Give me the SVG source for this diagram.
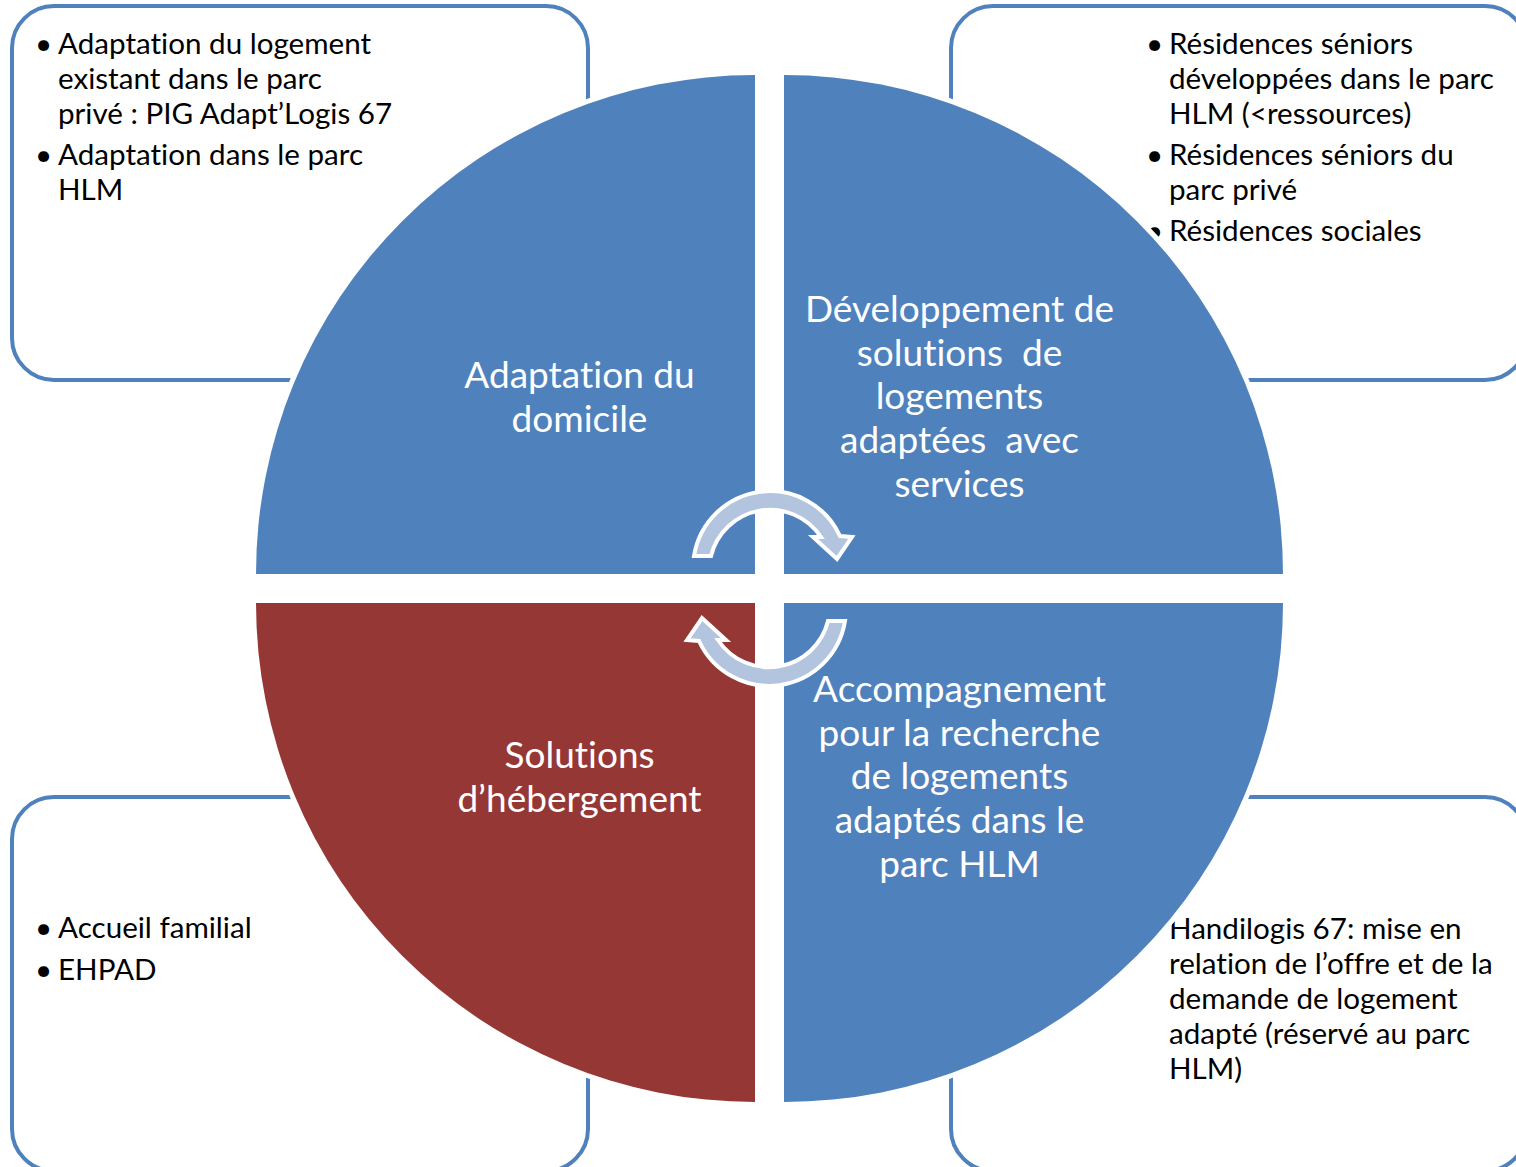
<svg xmlns="http://www.w3.org/2000/svg" width="1516" height="1167" viewBox="0 0 1516 1167">
<style>
text{font-variant-ligatures:none}
.box{fill:#FFFFFF;stroke:#4F81BD;stroke-width:4}
.bt{font-family:Lato,"Open Sans","Liberation Sans",sans-serif;font-size:29.6px;fill:#000000}
.q{stroke:#FFFFFF;stroke-width:10;paint-order:stroke;stroke-linejoin:miter}
.blue{fill:#4F81BD}
.red{fill:#953735}
.ql{font-family:Lato,"Open Sans","Liberation Sans",sans-serif;font-size:37px;fill:#FFFFFF;text-anchor:middle}
.arrow{fill:#B3C4DF;stroke:#FFFFFF;stroke-width:4;stroke-linejoin:miter}
</style>
<rect width="1516" height="1167" fill="#FFFFFF"/>
<g id="box-tl">
<rect class="box" x="12" y="6" width="576" height="374" rx="42" ry="42"/>
<text class="bt" x="35" y="54">•</text>
<text class="bt" x="58" y="54">Adaptation du logement</text>
<text class="bt" x="58" y="89">existant dans le parc</text>
<text class="bt" x="58" y="124">privé : PIG Adapt’Logis 67</text>
<text class="bt" x="35" y="165">•</text>
<text class="bt" x="58" y="165">Adaptation dans le parc</text>
<text class="bt" x="58" y="200">HLM</text>
</g>
<g id="box-tr">
<rect class="box" x="951" y="6" width="576" height="374" rx="42" ry="42"/>
<text class="bt" x="1146" y="54">•</text>
<text class="bt" x="1169" y="54">Résidences séniors</text>
<text class="bt" x="1169" y="89">développées dans le parc</text>
<text class="bt" x="1169" y="124">HLM (&lt;ressources)</text>
<text class="bt" x="1146" y="165">•</text>
<text class="bt" x="1169" y="165">Résidences séniors du</text>
<text class="bt" x="1169" y="200">parc privé</text>
<text class="bt" x="1146" y="241">•</text>
<text class="bt" x="1169" y="241">Résidences sociales</text>
</g>
<g id="box-bl">
<rect class="box" x="12" y="797" width="576" height="374" rx="42" ry="42"/>
<text class="bt" x="35" y="938">•</text>
<text class="bt" x="58" y="938">Accueil familial</text>
<text class="bt" x="35" y="980">•</text>
<text class="bt" x="58" y="980">EHPAD</text>
</g>
<g id="box-br">
<rect class="box" x="951" y="797" width="576" height="374" rx="42" ry="42"/>
<text class="bt" x="1169" y="939">Handilogis 67: mise en</text>
<text class="bt" x="1169" y="974">relation de l’offre et de la</text>
<text class="bt" x="1169" y="1009">demande de logement</text>
<text class="bt" x="1169" y="1044">adapté (réservé au parc</text>
<text class="bt" x="1169" y="1079">HLM)</text>
</g>
<g id="quad-tl">
<path class="q blue" d="M755,574 L256,574 A499,499 0 0 1 755,75 Z"/>
<text class="ql" x="579.5" y="388">Adaptation du</text>
<text class="ql" x="579.5" y="432">domicile</text>
</g>
<g id="quad-tr">
<path class="q blue" d="M784,574 L784,75 A499,499 0 0 1 1283,574 Z"/>
<text class="ql" xml:space="preserve" x="959.5" y="322">Développement de</text>
<text class="ql" xml:space="preserve" x="959.5" y="366">solutions  de</text>
<text class="ql" xml:space="preserve" x="959.5" y="409">logements</text>
<text class="ql" xml:space="preserve" x="959.5" y="453">adaptées  avec</text>
<text class="ql" xml:space="preserve" x="959.5" y="497">services</text>
</g>
<g id="quad-bl">
<path class="q red" d="M755,603 L755,1102 A499,499 0 0 1 256,603 Z"/>
<text class="ql" x="579.5" y="768">Solutions</text>
<text class="ql" x="579.5" y="812">d’hébergement</text>
</g>
<g id="quad-br">
<path class="q blue" d="M784,603 L1283,603 A499,499 0 0 1 784,1102 Z"/>
<text class="ql" x="959.5" y="702">Accompagnement</text>
<text class="ql" x="959.5" y="746">pour la recherche</text>
<text class="ql" x="959.5" y="789">de logements</text>
<text class="ql" x="959.5" y="833">adaptés dans le</text>
<text class="ql" x="959.5" y="877">parc HLM</text>
</g>
<g id="connectors">
<path id="arrow-top" class="arrow" d="M694,556 A77,77 0 0 1 840,536 L852,537 L837,559 L813,537 L821,537 A61,61 0 0 0 711,556 Z"/>
<path id="arrow-bottom" class="arrow" transform="rotate(180 769.5 588.5)" d="M694,556 A77,77 0 0 1 840,536 L852,537 L837,559 L813,537 L821,537 A61,61 0 0 0 711,556 Z"/>
</g>
</svg>
